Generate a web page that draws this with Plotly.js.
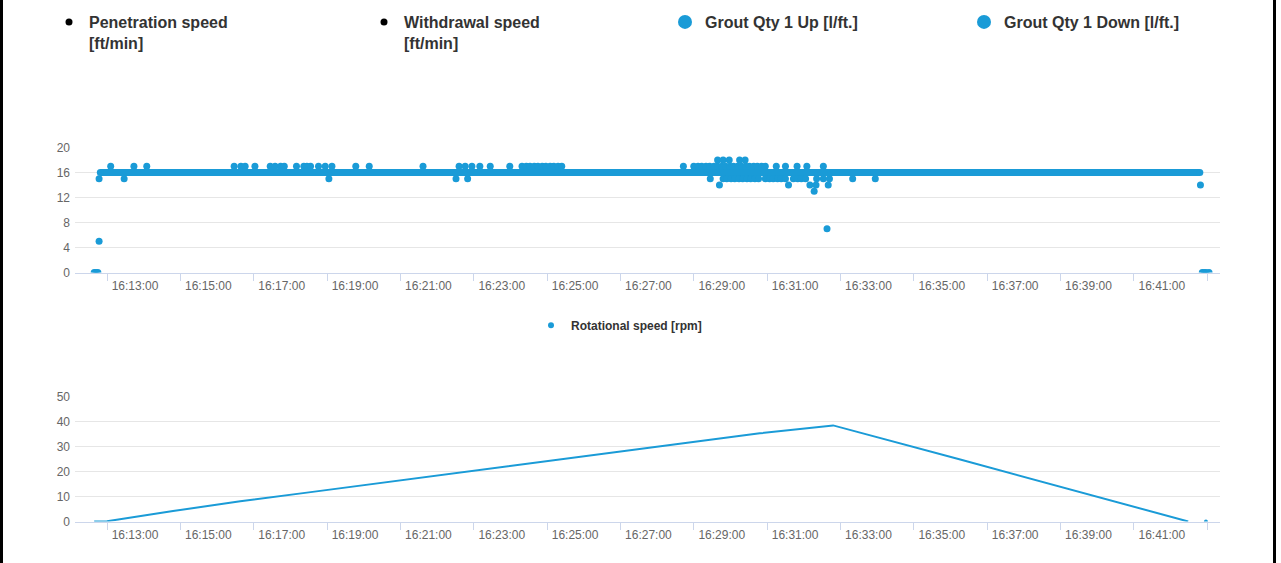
<!DOCTYPE html>
<html><head><meta charset="utf-8">
<script src="https://cdn.plot.ly/plotly-3.0.1.min.js"></script>
<style>
html,body{margin:0;padding:0;background:#fff;overflow:hidden}
#chart{position:absolute;left:0;top:0;width:1281px;height:563px}
.edge{position:absolute;top:0;width:3px;height:563px;background:#000}
</style></head><body>
<div id="chart"></div>
<div class="edge" style="left:0"></div>
<div class="edge" style="left:1273px"></div>
<script>
const DAY = '2024-01-01 ';

// ---- top chart: steady reading band (value 16) ----
const bandTimes  = ['16:12:49', '16:42:48'];
const bandValues = [16, 16];

// ---- top chart: individual readings off the band ----
const pointTimes = [
  '16:12:39','16:12:42','16:12:45','16:12:47','16:12:47',
  '16:13:06','16:13:28','16:13:44','16:14:05',
  '16:16:28','16:16:39','16:16:46','16:17:02','16:17:27','16:17:35','16:17:44','16:17:50',
  '16:18:10','16:18:22','16:18:27','16:18:33','16:18:46','16:18:57','16:19:03','16:19:08',
  '16:19:47','16:20:09','16:21:37',
  '16:22:31','16:22:36','16:22:46','16:22:50','16:22:57','16:23:10','16:23:27','16:23:59',
  '16:24:19','16:24:26','16:24:32','16:24:39','16:24:45','16:24:52','16:24:58','16:25:05','16:25:11','16:25:18','16:25:24',
  '16:28:43',
  '16:29:00','16:29:07','16:29:13','16:29:20','16:29:26','16:29:33','16:29:39','16:29:46','16:29:52','16:29:59',
  '16:30:05','16:30:12','16:30:18','16:30:25','16:30:31','16:30:38','16:30:44','16:30:51','16:30:57',
  '16:29:39','16:29:48','16:29:58','16:30:15','16:30:24',
  '16:29:27','16:29:48','16:29:54','16:30:01','16:30:07','16:30:14','16:30:20','16:30:27','16:30:33','16:30:40','16:30:46',
  '16:30:57','16:31:04','16:31:10','16:31:17','16:31:23','16:31:30',
  '16:31:43','16:31:50','16:31:56','16:32:03',
  '16:32:21','16:32:32','16:32:42','16:33:20','16:33:57',
  '16:31:15','16:31:30','16:31:49','16:32:05','16:32:32',
  '16:29:42','16:31:35','16:32:10','16:32:20','16:32:40',
  '16:32:17','16:32:38',
  '16:42:49','16:42:52','16:42:55','16:42:58','16:43:03'
];
const pointValues = [
  0,0,0,5,15,
  17,15,17,17,
  17,17,17,17,17,17,17,17,
  17,17,17,17,17,17,15,17,
  17,17,17,
  15,17,17,15,17,17,17,17,
  17,17,17,17,17,17,17,17,17,17,17,
  17,
  17,17,17,17,17,17,17,17,17,17,
  17,17,17,17,17,17,17,17,17,
  18,18,18,18,18,
  15,15,15,15,15,15,15,15,15,15,15,
  15,15,15,15,15,15,
  15,15,15,15,
  15,15,15,15,15,
  17,17,17,17,17,
  14,14,14,14,14,
  13,7,
  14,0,0,0,0
];

// ---- bottom chart: rotational speed ----
const rotTimes  = ['16:12:39','16:13:00','16:14:48','16:16:38','16:18:27','16:30:48','16:32:48','16:36:16','16:42:29'];
const rotValues = [0, 0.1, 4.2, 8.1, 11.6, 35.4, 38.6, 24.9, 0];
const rotLastTime  = ['16:42:58'];
const rotLastValue = [0];

// ---- legend labels ----
const legendNames = ['Penetration speed<br>[ft/min]', 'Withdrawal speed<br>[ft/min]', 'Grout Qty 1 Up [l/ft.]', 'Grout Qty 1 Down [l/ft.]'];
const rotName = 'Rotational speed [rpm]';
const xRange = ['16:12:07.6', '16:43:21'];

const BLUE = '#1a9bd7';
const FONT = 'Liberation Sans, Arial, Helvetica, sans-serif';
const t = a => a.map(s => DAY + s);

const traces = [
  {type:'scatter', mode:'lines+markers', x:t(bandTimes), y:bandValues, xaxis:'x', yaxis:'y',
   line:{color:BLUE, width:7}, marker:{color:BLUE, size:7}, showlegend:false, hoverinfo:'skip'},
  {type:'scatter', mode:'markers', x:t(pointTimes), y:pointValues, xaxis:'x', yaxis:'y',
   marker:{color:BLUE, size:7}, showlegend:false},
  {type:'scatter', mode:'lines', x:t(rotTimes), y:rotValues, xaxis:'x2', yaxis:'y2',
   line:{color:BLUE, width:2}, showlegend:false},
  {type:'scatter', mode:'markers', x:t(rotLastTime), y:rotLastValue, xaxis:'x2', yaxis:'y2',
   marker:{color:BLUE, size:4}, showlegend:false},
  // legend entries
  {type:'scatter', mode:'markers', x:[null], y:[null], name:legendNames[0], legend:'legend',
   marker:{color:'#000', size:7}},
  {type:'scatter', mode:'markers', x:[null], y:[null], name:legendNames[1], legend:'legend2',
   marker:{color:'#000', size:7}},
  {type:'scatter', mode:'markers', x:[null], y:[null], name:legendNames[2], legend:'legend3',
   marker:{color:BLUE, size:14}},
  {type:'scatter', mode:'markers', x:[null], y:[null], name:legendNames[3], legend:'legend4',
   marker:{color:BLUE, size:14}},
  {type:'scatter', mode:'markers', x:[null], y:[null], name:rotName, legend:'legend5', xaxis:'x2', yaxis:'y2',
   marker:{color:BLUE, size:6}}
];

const W = 1281, H = 563, L = 75, R = 61;
const PW = W - L - R;
const px2x = p => (p - L) / PW;
const py2y = p => 1 - p / H;

const xAx = (anchor) => ({
  type:'date', range:t(xRange), anchor:anchor,
  tickformat:'%H:%M:%S', tick0:DAY+'16:13:00', dtick:120000,
  ticks:'outside', ticklen:7, tickcolor:'#ccd6eb', tickwidth:1,
  showline:true, linecolor:'#ccd6eb', linewidth:1,
  showgrid:false, zeroline:false,
  tickfont:{family:FONT, size:12, color:'#666666'},
  ticklabelshift:28, ticklabelstandoff:-5, ticklabeloverflow:'hide past domain'
});
const yAx = (domain, range, dtick) => ({
  domain:domain, range:range, dtick:dtick, tick0:0,
  showgrid:true, gridcolor:'#e6e6e6', gridwidth:1, zeroline:false, showline:false,
  ticks:'', tickfont:{family:FONT, size:12, color:'#666666'}, ticklabelstandoff:4
});

const legBase = (xp, yp, size) => ({
  x:px2x(xp), xanchor:'left', y:py2y(yp), yanchor:'top', orientation:'v',
  bgcolor:'rgba(0,0,0,0)', borderwidth:0, valign:'top',
  font:{family:FONT, size:size, color:'#333333', weight:'bold'}
});

const layout = {
  width:W, height:H, margin:{l:L, r:R, t:0, b:0},
  paper_bgcolor:'#ffffff', plot_bgcolor:'#ffffff',
  xaxis:xAx('y'), xaxis2:Object.assign(xAx('y2'), {matches:'x'}),
  yaxis:yAx([(H-272.5)/H, (H-147.5)/H], [0,20], 4),
  yaxis2:yAx([(H-521.5)/H, (H-397)/H], [0,50], 10),
  legend:legBase(49, 5, 16),
  legend2:legBase(364, 5, 16),
  legend3:legBase(665, 5, 16),
  legend4:legBase(964, 5, 16),
  legend5:legBase(531, 311, 12),
  showlegend:true, hovermode:false
};

Plotly.newPlot('chart', traces, layout, {displayModeBar:false, staticPlot:true});
</script>
</body></html>
